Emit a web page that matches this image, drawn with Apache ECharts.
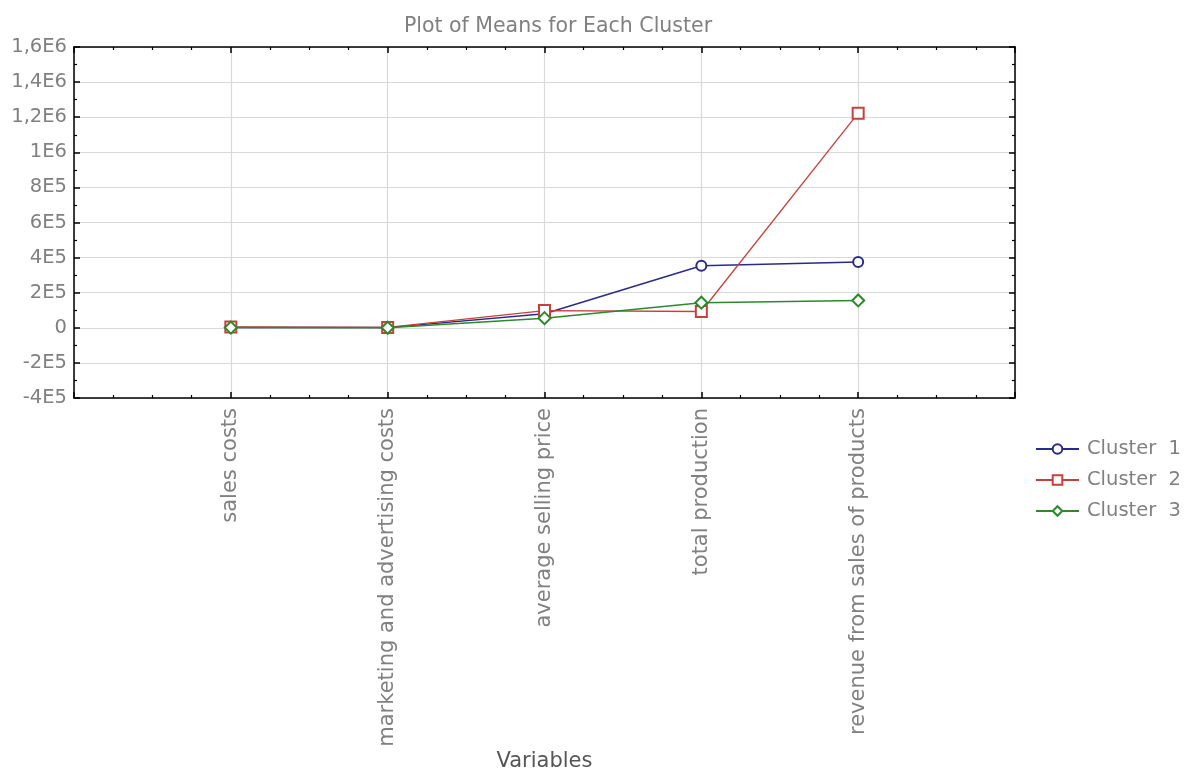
<!DOCTYPE html>
<html>
<head>
<meta charset="utf-8">
<script src="https://cdn.jsdelivr.net/npm/echarts@6/dist/echarts.min.js"></script>
<style>
html,body{margin:0;padding:0;background:#fff;}
#chart{width:1186px;height:771px;}
</style>
</head>
<body>
<div id="chart"></div>
<script>
const categories = ['sales costs', 'marketing and advertising costs', 'average selling price', 'total production', 'revenue from sales of products'];
const cluster1 = [2000, 1000, 80000, 354000, 375000];
const cluster2 = [5000, 2000, 98000, 93000, 1223000];
const cluster3 = [1000, 500, 55000, 143000, 156000];
const yTickLabels = ['-4E5', '-2E5', '0', '2E5', '4E5', '6E5', '8E5', '1E6', '1,2E6', '1,4E6', '1,6E6'];
const seriesNames = ['Cluster  1', 'Cluster  2', 'Cluster  3'];

const Y_MIN = -400000, Y_MAX = 1600000, Y_STEP = 200000;
const toPoints = arr => arr.map((v, i) => [i + 1, v]);

const textColor = '#808080';
const fontFamily = '"DejaVu Sans", sans-serif';

const chart = echarts.init(document.getElementById('chart'));
const tickCommon = { show: true, inside: true, length: 6, lineStyle: { color: '#000', width: 1.5 } };
const minorCommon = { show: true, length: 3, lineStyle: { color: '#000', width: 1.2 } };

chart.setOption({
  animation: false,
  backgroundColor: '#fff',
  textStyle: { fontFamily: fontFamily },
  title: {
    text: 'Plot of Means for Each Cluster',
    left: 553, top: 11, textAlign: 'center',
    textStyle: { fontFamily: fontFamily, fontSize: 20.5, fontWeight: 'normal', color: textColor }
  },
  grid: { left: 74, right: 171, top: 47, bottom: 373, containLabel: false, outerBoundsMode: 'none' },
  legend: {
    orient: 'vertical', left: 1030, top: 434,
    itemWidth: 43, itemHeight: 12, itemGap: 11,
    textStyle: { fontFamily: fontFamily, fontSize: 19.5, color: textColor, padding: [0, 0, 0, 3] },
    data: seriesNames
  },
  xAxis: [{
    type: 'value', min: 0, max: 6, interval: 1,
    name: 'Variables', nameLocation: 'middle', nameGap: 353,
    nameTextStyle: { fontFamily: fontFamily, fontSize: 21, color: '#555' },
    axisLine: { show: true, onZero: false, lineStyle: { color: '#000', width: 1.5 } },
    axisTick: tickCommon,
    minorTick: Object.assign({ splitNumber: 4 }, minorCommon),
    splitLine: { show: true, lineStyle: { color: '#d9d9d9', width: 1.2 } },
    axisLabel: {
      rotate: 90, margin: 10, fontSize: 21, color: textColor, fontFamily: fontFamily,
      formatter: v => categories[v - 1] || ''
    }
  }, {
    type: 'value', min: 0, max: 6, interval: 1, position: 'top',
    axisLine: { show: true, onZero: false, lineStyle: { color: '#000', width: 1.5 } },
    axisTick: tickCommon,
    minorTick: Object.assign({ splitNumber: 4 }, minorCommon),
    splitLine: { show: false },
    axisLabel: { show: false }
  }],
  yAxis: [{
    type: 'value', min: Y_MIN, max: Y_MAX, interval: Y_STEP,
    axisLine: { show: true, onZero: false, lineStyle: { color: '#000', width: 1.5 } },
    axisTick: tickCommon,
    minorTick: Object.assign({ splitNumber: 2 }, minorCommon),
    splitLine: { show: true, lineStyle: { color: '#d9d9d9', width: 1.2 } },
    axisLabel: {
      margin: 7, fontSize: 19.5, color: textColor, fontFamily: fontFamily,
      formatter: v => yTickLabels[Math.round((v - Y_MIN) / Y_STEP)]
    }
  }, {
    type: 'value', min: Y_MIN, max: Y_MAX, interval: Y_STEP, position: 'right',
    axisLine: { show: true, onZero: false, lineStyle: { color: '#000', width: 1.5 } },
    axisTick: tickCommon,
    minorTick: Object.assign({ splitNumber: 2 }, minorCommon),
    splitLine: { show: false },
    axisLabel: { show: false }
  }],
  series: [
    { name: seriesNames[0], type: 'line', data: toPoints(cluster1), symbol: 'emptyCircle', symbolSize: 10,
      itemStyle: { color: '#2a2a8c', borderWidth: 1.5 }, lineStyle: { color: '#2a2a8c', width: 1.5 } },
    { name: seriesNames[1], type: 'line', data: toPoints(cluster2), symbol: 'emptyRect', symbolSize: 11,
      itemStyle: { color: '#c8403c', borderWidth: 1.5 }, lineStyle: { color: '#c8403c', width: 1.3 } },
    { name: seriesNames[2], type: 'line', data: toPoints(cluster3), symbol: 'emptyDiamond', symbolSize: 12,
      itemStyle: { color: '#2a8a2a', borderWidth: 1.5 }, lineStyle: { color: '#2a8a2a', width: 1.5 } }
  ]
});
</script>
</body>
</html>
